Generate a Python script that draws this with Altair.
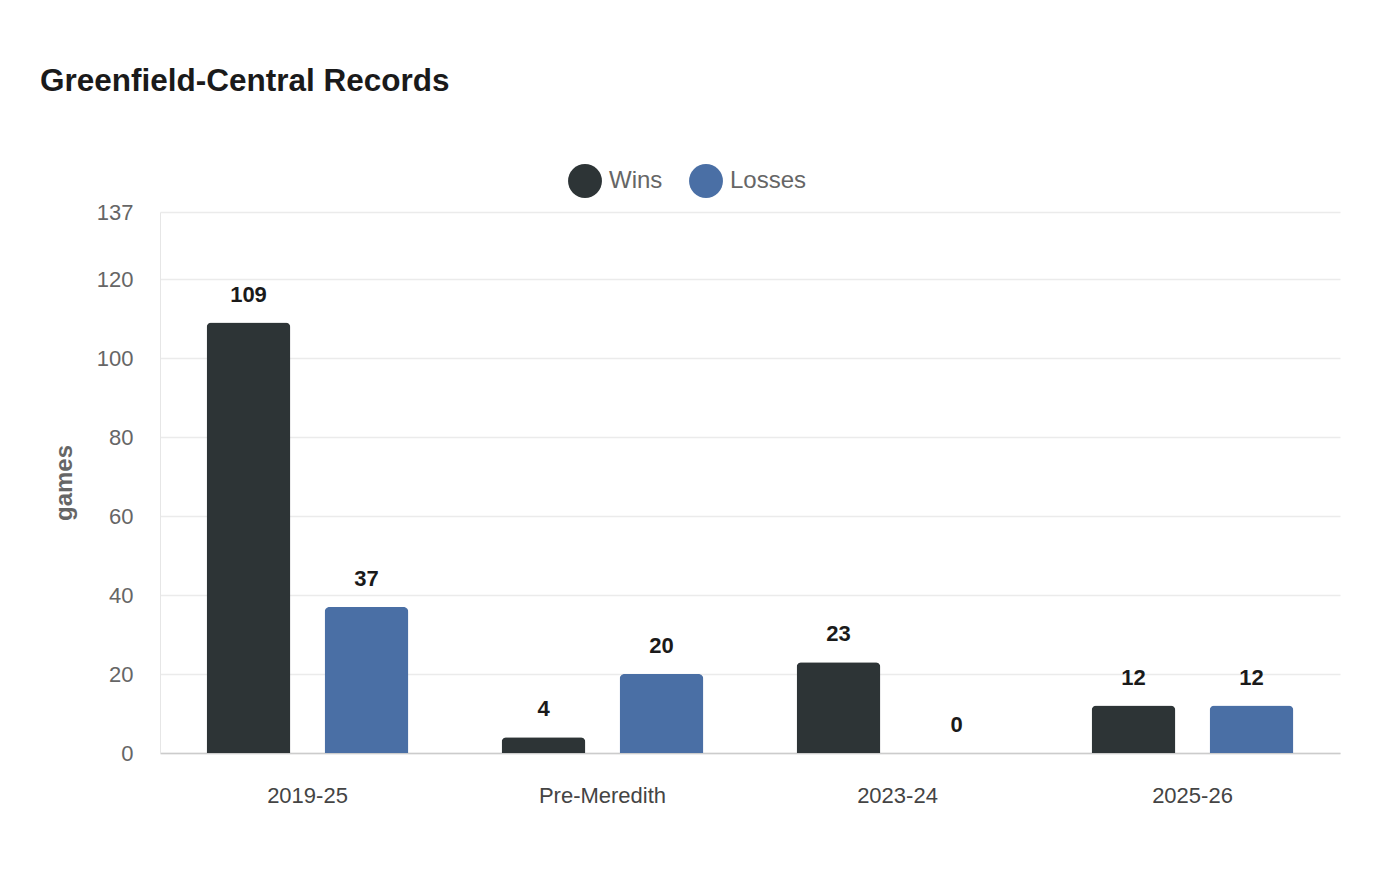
import altair as alt
import pandas as pd

categories = ["2019-25", "Pre-Meredith", "2023-24", "2025-26"]
wins = [109, 4, 23, 12]
losses = [37, 20, 0, 12]
series = ["Wins", "Losses"]
colors = ["#2d3436", "#4a6fa5"]
y_ticks = [0, 20, 40, 60, 80, 100, 120, 137]

rows = []
for c, w, l in zip(categories, wins, losses):
    rows.append({"period": c, "series": "Wins", "games": w})
    rows.append({"period": c, "series": "Losses", "games": l})
df = pd.DataFrame(rows)

x_enc = alt.X("period:N", sort=categories, title=None,
              scale=alt.Scale(paddingInner=0.2, paddingOuter=0.1),
              axis=alt.Axis(labelAngle=0, labelFontSize=22, labelColor="#444",
                            labelFont="Liberation Sans", labelPadding=32,
                            ticks=False, domainColor="#cccccc", domainWidth=1.5,
                            grid=False))
xo_enc = alt.XOffset("series:N", sort=series,
                     scale=alt.Scale(paddingInner=0.29, paddingOuter=0.145))
y_enc = alt.Y("games:Q", title="games",
              scale=alt.Scale(domain=[0, 137], nice=False),
              axis=alt.Axis(values=y_ticks, labelFontSize=22, labelColor="#666",
                            labelFont="Liberation Sans", labelPadding=27,
                            ticks=False, domain=True, domainColor="#e6e6e6",
                            gridColor="#ebebeb", gridWidth=1.5,
                            titleFontSize=24, titleColor="#666", titleFont="Liberation Sans",
                            titleFontWeight="bold", titlePadding=20))

bars = alt.Chart(df).mark_bar(cornerRadiusTopLeft=5, cornerRadiusTopRight=5).encode(
    x=x_enc, xOffset=xo_enc, y=y_enc,
    color=alt.Color("series:N", sort=series,
                    scale=alt.Scale(domain=series, range=colors),
                    legend=alt.Legend(title=None, orient="none", direction="horizontal",
                                      legendX=408, legendY=-48,
                                      symbolType="circle", symbolSize=1150,
                                      symbolStrokeWidth=0,
                                      labelFontSize=24, labelColor="#666",
                                      labelFont="Liberation Sans",
                                      columnPadding=26, labelOffset=7)),
)

labels = alt.Chart(df).mark_text(fontSize=22, fontWeight="bold", color="#1a1a1a",
                                 font="Liberation Sans", baseline="alphabetic", dy=-21).encode(
    x=alt.X("period:N", sort=categories), xOffset=alt.XOffset("series:N", sort=series),
    y="games:Q", text="games:Q",
)

chart = (bars + labels).properties(
    width=1180, height=541,
    autosize=alt.AutoSizeParams(type="none"),
    padding={"left": 152, "top": 204, "right": 44, "bottom": 100},
    title=alt.TitleParams("Greenfield-Central Records", anchor="start", frame="group",
                          dx=-120, offset=67, fontSize=31.5, fontWeight="bold",
                          color="#1a1a1a", font="Liberation Sans"),
).configure(background="white").configure_view(stroke="transparent", strokeWidth=0)

chart.save("out.html", embed_options={"renderer": "svg", "actions": False})
